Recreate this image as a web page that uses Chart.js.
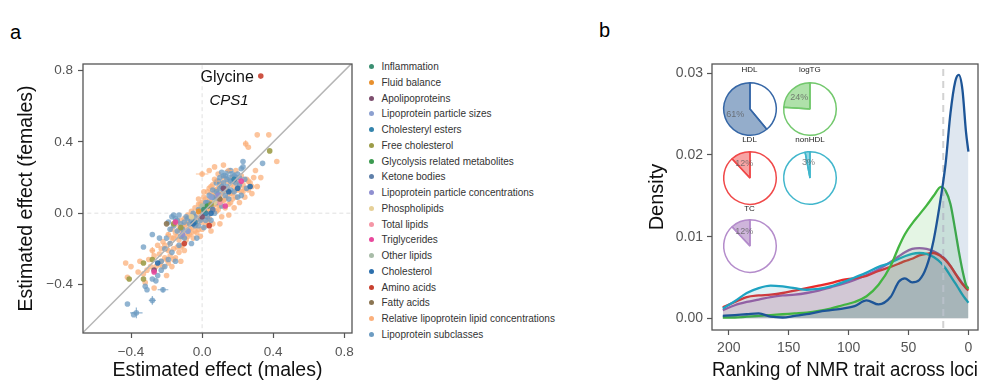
<!DOCTYPE html>
<html>
<head>
<meta charset="utf-8">
<script src="https://cdn.jsdelivr.net/npm/chart.js@4.4.1/dist/chart.umd.min.js"></script>
<style>
  html, body { margin: 0; padding: 0; background: #fff; }
  #fig { position: relative; width: 989px; height: 381px; overflow: hidden;
         font-family: "Liberation Sans", Arial, Helvetica, sans-serif; }
  #fig canvas { position: absolute; }
  .tag { position: absolute; font-size: 20px; line-height: 20px; color: #000; }
  .lg { position: absolute; left: 369px; height: 12px; font-size: 10px; line-height: 12px;
        color: #333; white-space: nowrap; }
  .lg i { display: inline-block; width: 5px; height: 5px; border-radius: 50%;
          margin-right: 7.5px; vertical-align: 1px; }
  .pie-title { position: absolute; font-size: 8px; line-height: 8px; color: #222;
               transform: translate(-50%, -50%); white-space: nowrap; }
</style>
</head>
<body>
<div id="fig">
  <div class="tag" style="left:10px;top:22px">a</div>
  <div class="tag" style="left:599px;top:20px">b</div>
  <canvas id="scatter" width="360" height="381" style="left:0;top:0"></canvas>
  <div id="legend"></div>
  <canvas id="density" width="349" height="381" style="left:640px;top:0"></canvas>
  <div id="pies"></div>
</div>
<script>
// ---------- panel a: sex-specific effect estimates ----------
const categories = [
  'Inflammation', 'Fluid balance', 'Apolipoproteins', 'Lipoprotein particle sizes',
  'Cholesteryl esters', 'Free cholesterol', 'Glycolysis related metabolites', 'Ketone bodies',
  'Lipoprotein particle concentrations', 'Phospholipids', 'Total lipids', 'Triglycerides',
  'Other lipids', 'Cholesterol', 'Amino acids', 'Fatty acids',
  'Relative lipoprotein lipid concentrations', 'Lipoprotein subclasses'
];
const categoryColors = [
  '#3b8f72', '#e8902e', '#7d4e6e', '#8ca0d0', '#3484ac', '#9c9c48', '#3c9a50', '#5f80aa',
  '#8f8fd0', '#e6d098', '#f596a6', '#e8489c', '#a8bca8', '#2c6fac', '#c8402f', '#8b7552',
  '#fbb07c', '#6d9cc2'
];

// [males, females] or [males, females, males SE, females SE]
const inflammation = [[0.01, 0.02]];
const fluidBalance = [[-0.02, 0.01]];
const apolipoproteins = [[-0.27, -0.32], [0.00, -0.02], [0.12, 0.14]];
const particleSizes = [[0.05, 0.09], [-0.08, -0.10]];
const cholesterylEsters = [[0.02, 0.00], [-0.04, -0.05], [0.18, 0.19]];
const freeCholesterol = [[-0.41, -0.37], [-0.33, -0.28], [-0.33, -0.37], [-0.28, -0.26],
  [0.38, 0.35], [-0.12, -0.08], [-0.16, -0.06], [0.05, 0.05]];
const glycolysis = [[0.03, 0.04]];
const ketoneBodies = [[0.06, 0.02]];
const particleConcentrations = [[0.09, 0.10], [-0.11, -0.12]];
const phospholipids = [[0.07, 0.06], [-0.06, -0.02]];
const totalLipids = [[0.10, 0.06]];
const triglycerides = [[-0.15, -0.05], [0.13, 0.04], [-0.27, -0.33], [0.22, 0.18]];
const otherLipids = [[0.00, 0.04]];
const cholesterol = [[-0.25, -0.28], [0.05, 0.00], [0.15, 0.12], [-0.05, -0.06], [0.20, 0.14], [0.27, 0.15]];
const glycine = { name: 'Glycine', gene: 'CPS1', x: 0.33, y: 0.77 };
const aminoAcids = [[glycine.x, glycine.y], [0.04, -0.07], [-0.10, -0.17]];
const fattyAcids = [[-0.20, -0.06], [0.10, 0.08]];
const relativeConcentrations = [
  [-0.43, -0.28], [-0.42, -0.36], [-0.40, -0.30], [-0.36, -0.33], [-0.33, -0.34], [-0.31, -0.32],
  [-0.30, -0.26], [-0.28, -0.21, 0.015, 0.02], [-0.27, -0.42], [-0.26, -0.30], [-0.25, -0.18],
  [-0.24, -0.23], [-0.23, -0.27], [-0.22, -0.16], [-0.22, -0.30], [-0.21, -0.25], [-0.20, -0.20],
  [-0.19, -0.12, 0.015, 0.015], [-0.19, -0.28], [-0.18, -0.24], [-0.18, -0.17], [-0.17, -0.30], [-0.17, -0.09],
  [-0.16, -0.20], [-0.16, -0.14], [-0.15, -0.25], [-0.15, -0.11], [-0.14, -0.19], [-0.14, -0.06],
  [-0.13, -0.15], [-0.13, -0.22], [-0.12, -0.10], [-0.12, -0.04], [-0.11, -0.18], [-0.11, -0.13],
  [-0.10, -0.03], [-0.10, -0.08], [-0.09, -0.15], [-0.09, -0.11], [-0.08, -0.01], [-0.08, -0.06],
  [-0.07, -0.12], [-0.07, -0.03], [-0.06, -0.08], [-0.06, 0.01], [-0.05, -0.14], [-0.05, -0.04],
  [-0.04, -0.10], [-0.04, 0.03], [-0.03, -0.06], [-0.03, -0.01], [-0.02, 0.05], [-0.02, -0.09],
  [-0.01, -0.03], [-0.01, 0.02], [0.00, 0.06], [0.00, -0.05], [0.00, 0.22, 0.035, 0.015],
  [0.01, 0.00], [0.01, 0.09], [0.02, -0.07], [0.02, 0.04], [0.03, 0.12], [0.03, 0.01],
  [0.04, -0.03], [0.04, 0.07], [0.05, 0.15], [0.05, 0.02], [0.06, -0.06], [0.06, 0.10],
  [0.07, 0.05], [0.07, 0.19], [0.08, 0.01], [0.08, 0.13], [0.09, 0.08], [0.09, 0.22],
  [0.10, 0.04], [0.10, 0.16], [0.11, -0.02], [0.11, 0.11], [0.12, 0.07], [0.12, 0.20],
  [0.13, 0.14], [0.13, 0.03], [0.14, 0.18], [0.14, 0.09], [0.15, 0.12], [0.15, 0.24, 0.02, 0.01],
  [0.16, 0.06], [0.16, 0.16], [0.17, 0.20], [0.17, 0.11], [0.18, 0.03], [0.18, 0.15],
  [0.19, 0.24], [0.19, 0.09], [0.20, 0.18], [0.20, 0.13], [0.21, 0.06], [0.22, 0.21],
  [0.22, 0.12], [0.23, 0.16], [0.24, 0.09], [0.25, 0.19], [0.26, 0.13], [0.27, 0.17],
  [0.28, 0.11], [0.29, 0.20], [0.31, 0.15], [0.245, 0.39, 0.015, 0.02], [0.26, 0.37],
  [0.31, 0.44], [0.375, 0.44], [0.42, 0.29], [0.30, 0.24], [0.07, 0.26], [0.12, 0.27],
  [0.04, 0.24], [0.10, -0.06], [0.15, -0.01], [0.05, -0.10], [-0.01, -0.13], [-0.12, -0.27],
  [-0.20, -0.35], [-0.32, -0.39], [0.28, 0.15], [0.33, 0.20],
  [-0.35, -0.27], [-0.29, -0.30], [-0.27, -0.24], [-0.24, -0.29], [-0.23, -0.20], [-0.21, -0.18],
  [-0.20, -0.26], [-0.19, -0.21], [-0.17, -0.14], [-0.16, -0.26], [-0.14, -0.13], [-0.13, -0.09],
  [-0.12, -0.19], [-0.11, -0.07], [-0.10, -0.21], [-0.09, -0.06], [-0.08, -0.13], [-0.07, -0.09],
  [-0.06, -0.11], [-0.05, -0.01], [-0.04, -0.07], [-0.03, -0.11], [-0.02, -0.03], [-0.01, 0.05],
  [0.00, 0.01], [0.01, 0.04], [0.02, 0.08], [0.02, -0.02], [0.03, 0.05], [0.04, 0.02],
  [0.05, 0.11], [0.05, 0.06], [0.06, 0.03], [0.06, 0.16], [0.07, 0.09], [0.08, 0.05],
  [0.08, 0.18, 0.02, 0.015], [0.08, 0.10], [0.09, 0.14], [0.09, 0.02], [0.10, 0.10], [0.11, 0.07],
  [0.11, 0.17], [0.12, 0.12], [0.13, 0.08], [0.14, 0.13], [0.15, 0.05], [0.16, 0.11],
  [0.17, 0.08], [0.18, 0.18], [0.19, 0.13], [0.21, 0.15], [0.23, 0.12], [0.24, 0.14],
  [0.26, 0.18], [0.07, 0.13], [0.04, 0.14], [0.01, 0.12], [-0.02, 0.08], [0.00, -0.09], [0.03, -0.05]
];
const subclasses = [
  [-0.37, -0.56, 0.035, 0.03], [-0.385, -0.57], [-0.42, -0.51], [-0.28, -0.49, 0.02, 0.025],
  [-0.22, -0.43, 0.03, 0.015], [-0.32, -0.41], [-0.31, -0.43], [-0.28, -0.37], [-0.25, -0.35],
  [-0.23, -0.32], [-0.21, -0.30], [-0.33, -0.19], [-0.28, -0.12], [-0.24, -0.14], [-0.20, -0.14],
  [-0.19, -0.05], [-0.17, -0.02], [-0.16, -0.07], [-0.15, -0.03], [-0.14, -0.10], [-0.13, -0.01],
  [-0.12, -0.06], [-0.11, -0.09], [-0.19, -0.26], [-0.17, -0.22], [-0.15, -0.27], [-0.13, -0.18],
  [-0.10, -0.14], [-0.09, -0.02], [-0.07, -0.06], [-0.06, -0.17], [-0.05, 0.00], [-0.04, -0.07],
  [-0.03, -0.14], [-0.02, 0.02], [-0.01, -0.04], [0.00, 0.00], [0.01, -0.08], [0.02, 0.06],
  [0.03, -0.02], [0.04, 0.10], [0.05, 0.04], [0.06, 0.13], [0.07, 0.08], [0.08, 0.17],
  [0.09, 0.11], [0.10, 0.20], [0.10, 0.14], [0.11, 0.23], [0.12, 0.17], [0.13, 0.21],
  [0.13, 0.10], [0.14, 0.15], [0.15, 0.20], [0.15, 0.08], [0.16, 0.24], [0.17, 0.18],
  [0.18, 0.21], [0.18, 0.12], [0.19, 0.17], [0.20, 0.22], [0.21, 0.16], [0.23, 0.26],
  [0.23, 0.29], [0.34, 0.28], [0.24, 0.19], [0.25, 0.14], [0.22, 0.10], [0.11, 0.04],
  [0.07, 0.00], [0.03, 0.06], [-0.08, -0.10], [0.05, -0.04], [0.16, 0.13], [0.20, 0.09],
  [-0.18, -0.09], [-0.16, -0.01], [-0.14, -0.04], [-0.12, -0.13], [-0.10, -0.05], [-0.08, -0.03],
  [-0.06, -0.04], [-0.04, -0.02], [-0.02, -0.07], [0.01, 0.03], [0.02, -0.04], [0.04, 0.05],
  [0.06, 0.09], [0.08, 0.12], [0.09, 0.18], [0.11, 0.15], [0.12, 0.21], [0.14, 0.19],
  [0.14, 0.23], [0.16, 0.18], [0.17, 0.22], [0.19, 0.20], [0.21, 0.20], [0.22, 0.25],
  [0.12, 0.13], [0.08, 0.06], [-0.23, -0.27], [-0.26, -0.38], [-0.21, -0.20], [-0.18, -0.17]
];
const categoryPoints = [
  inflammation, fluidBalance, apolipoproteins, particleSizes, cholesterylEsters, freeCholesterol,
  glycolysis, ketoneBodies, particleConcentrations, phospholipids, totalLipids, triglycerides,
  otherLipids, cholesterol, aminoAcids, fattyAcids, relativeConcentrations, subclasses
];
const effectTicks = [-0.4, 0.0, 0.4, 0.8];

// ---------- panel b: ranking densities ----------
const ranks = [205, 195, 185, 175, 165, 155, 145, 135, 125, 115, 105, 95, 85, 75, 65, 58, 53, 47, 41, 35, 29, 23, 19, 15, 11, 8, 5, 2, 0];
const hdlDensity = [0.0003, 0.0004, 0.0005, 0.0006, 0.0002, 0.0001, 0.0003, 0.0005, 0.0008, 0.0010, 0.0012, 0.0015, 0.0022, 0.0017, 0.0026, 0.0045, 0.0049, 0.0044, 0.0047, 0.0063, 0.0096, 0.0148, 0.0190, 0.0251, 0.0290, 0.0298, 0.0280, 0.0228, 0.0204];
const logtgDensity = [0.0001, 0.0001, 0.0002, 0.0003, 0.0004, 0.0005, 0.0006, 0.0007, 0.0009, 0.0012, 0.0016, 0.0020, 0.0027, 0.0041, 0.0064, 0.0088, 0.0103, 0.0116, 0.0127, 0.0138, 0.0150, 0.0161, 0.0156, 0.0140, 0.0108, 0.0082, 0.0059, 0.0041, 0.0036];
const ldlDensity = [0.00135, 0.0020, 0.0026, 0.0028, 0.0029, 0.0031, 0.0034, 0.0037, 0.0040, 0.0043, 0.0047, 0.0049, 0.0052, 0.0058, 0.0063, 0.0067, 0.0070, 0.0073, 0.0077, 0.0079, 0.0080, 0.0076, 0.0071, 0.0064, 0.0055, 0.0048, 0.0042, 0.0037, 0.0034];
const nonhdlDensity = [0.0012, 0.0021, 0.0031, 0.0037, 0.0040, 0.0039, 0.0037, 0.0035, 0.0036, 0.0039, 0.0044, 0.0050, 0.0056, 0.0063, 0.0068, 0.0073, 0.0076, 0.0079, 0.0080, 0.0079, 0.0075, 0.0068, 0.0061, 0.0052, 0.0043, 0.0036, 0.0029, 0.0023, 0.0019];
const tcDensity = [0.0010, 0.0016, 0.0020, 0.0023, 0.0026, 0.0028, 0.0029, 0.0031, 0.0034, 0.0038, 0.0042, 0.0047, 0.0053, 0.0060, 0.0069, 0.0076, 0.0081, 0.0085, 0.0086, 0.0085, 0.0082, 0.0077, 0.0072, 0.0064, 0.0055, 0.0049, 0.0043, 0.0039, 0.0037];
const rankCutoff = 21;
const rankTicks = [200, 150, 100, 50, 0];
const densityTicks = [0.00, 0.01, 0.02, 0.03];

const lipidTraits = ['HDL', 'logTG', 'LDL', 'nonHDL', 'TC'];
const topRankShare = [61, 24, 12, 3, 12];
const traitLine = ['#1d5597', '#43b541', '#ea2a2a', '#1ea3c2', '#9a5cb4'];
const pieEdge = ['#3566a6', '#72c86c', '#f04848', '#40b6cc', '#b48ccb'];
const pieFill = ['rgba(60,105,160,0.55)', 'rgba(110,200,100,0.55)', 'rgba(240,90,90,0.55)', 'rgba(60,180,205,0.55)', 'rgba(165,120,190,0.55)'];

const FONT = '"Liberation Sans", Arial, Helvetica, sans-serif';
Chart.defaults.font.family = FONT;

// box around the plotting region
const framePlugin = {
  id: 'frame',
  afterDraw(chart) {
    const { ctx, chartArea: a } = chart;
    ctx.save();
    ctx.strokeStyle = '#555';
    ctx.lineWidth = 1.3;
    ctx.strokeRect(a.left, a.top, a.right - a.left, a.bottom - a.top);
    ctx.restore();
  }
};

// horizontal / vertical standard-error whiskers
const errorBarPlugin = {
  id: 'errorBars',
  afterDatasetsDraw(chart) {
    const { ctx, scales: { x, y } } = chart;
    ctx.save();
    ctx.lineWidth = 1.2;
    chart.data.datasets.forEach(ds => {
      if (!ds.whiskers) return;
      ds.data.forEach(p => {
        if (p.ex === undefined) return;
        ctx.strokeStyle = ds.backgroundColor;
        ctx.beginPath();
        ctx.moveTo(x.getPixelForValue(p.x - p.ex), y.getPixelForValue(p.y));
        ctx.lineTo(x.getPixelForValue(p.x + p.ex), y.getPixelForValue(p.y));
        ctx.moveTo(x.getPixelForValue(p.x), y.getPixelForValue(p.y - p.ey));
        ctx.lineTo(x.getPixelForValue(p.x), y.getPixelForValue(p.y + p.ey));
        ctx.stroke();
      });
    });
    ctx.restore();
  }
};

// name of the highlighted metabolite and its gene
const glycinePlugin = {
  id: 'glycineLabel',
  afterDatasetsDraw(chart) {
    const { ctx, scales: { x, y } } = chart;
    const px = x.getPixelForValue(glycine.x), py = y.getPixelForValue(glycine.y);
    ctx.save();
    ctx.fillStyle = '#111';
    ctx.textBaseline = 'middle';
    ctx.font = '16px ' + FONT;
    const w = ctx.measureText(glycine.name).width;
    ctx.textAlign = 'right';
    ctx.fillText(glycine.name, px - 7, py + 1);
    ctx.font = 'italic 15px ' + FONT;
    ctx.textAlign = 'center';
    ctx.fillText(glycine.gene, px - 7 - w / 2 + 2, py + 25);
    ctx.restore();
  }
};

const fmtEffect = v => (v < 0 ? '\u2212' : '') + Math.abs(v).toFixed(1);

const scatterSets = categories.map((name, i) => ({
  label: name,
  data: categoryPoints[i].map(p => ({ x: p[0], y: p[1], ex: p[2], ey: p[3] })),
  backgroundColor: categoryColors[i] + (i >= 16 ? 'c0' : 'e6'),
  borderWidth: 0,
  pointRadius: 2.8,
  whiskers: true
}));
// smaller groups on top, then subclasses, then relative concentrations underneath
const drawOrder = [14, 11, 5, 15, 2, 13, 0, 1, 3, 4, 6, 7, 8, 9, 10, 12, 17, 16];

const refLine = (pts, color, dash, width) => ({
  data: pts, showLine: true, pointRadius: 0, borderColor: color,
  borderDash: dash, borderWidth: width, fill: false
});

const axisCommon = {
  type: 'linear',
  grid: { display: true, drawOnChartArea: false, drawTicks: true, tickLength: 5, tickColor: '#555', tickWidth: 1.2 },
  border: { display: false }
};

new Chart(document.getElementById('scatter'), {
  type: 'scatter',
  data: {
    datasets: [
      refLine([{ x: -1, y: -1 }, { x: 1, y: 1 }], '#b5b5b5', [], 1.5),
      ...drawOrder.map(i => scatterSets[i]),
      refLine([{ x: 0, y: -1 }, { x: 0, y: 1 }], '#e0e0e0', [4, 3], 1),
      refLine([{ x: -1, y: 0 }, { x: 1, y: 0 }], '#e0e0e0', [4, 3], 1)
    ]
  },
  options: {
    responsive: false, animation: false, events: [],
    layout: { padding: { left: 0, top: 64, right: 8, bottom: 0 } },
    plugins: { legend: { display: false }, tooltip: { enabled: false } },
    scales: {
      x: {
        ...axisCommon, min: -0.67, max: 0.843,
        afterBuildTicks: s => { s.ticks = effectTicks.map(v => ({ value: v })); },
        afterFit: s => { s.height = 48; },
        ticks: { font: { size: 13.5 }, color: '#555', padding: 6, callback: fmtEffect, maxRotation: 0 },
        title: { display: true, text: 'Estimated effect (males)', color: '#111',
                 font: { size: 19.5, lineHeight: 1 }, padding: { top: 0, bottom: 1 } }
      },
      y: {
        ...axisCommon, min: -0.673, max: 0.838,
        afterBuildTicks: s => { s.ticks = effectTicks.map(v => ({ value: v })); },
        afterFit: s => { s.width = 83; },
        ticks: { font: { size: 13.5 }, color: '#555', padding: 5, callback: fmtEffect },
        title: { display: true, text: 'Estimated effect (females)', color: '#111',
                 font: { size: 19.5, lineHeight: 1 }, padding: { top: 17, bottom: 0 } }
      }
    }
  },
  plugins: [framePlugin, errorBarPlugin, glycinePlugin]
});

// category key
const legendBox = document.getElementById('legend');
categories.forEach((name, i) => {
  const row = document.createElement('div');
  row.className = 'lg';
  row.style.top = (61 + i * 15.75) + 'px';
  row.innerHTML = '<i style="background:' + categoryColors[i] + '"></i>' + name;
  legendBox.appendChild(row);
});

// ---------- panel b chart ----------
const densitySeries = [hdlDensity, logtgDensity, ldlDensity, nonhdlDensity, tcDensity];
const hexToRgba = (hex, a) => {
  const n = parseInt(hex.slice(1), 16);
  return 'rgba(' + (n >> 16) + ',' + ((n >> 8) & 255) + ',' + (n & 255) + ',' + a + ')';
};
const curveSets = lipidTraits.map((t, i) => ({
  label: t,
  data: ranks.map((r, k) => ({ x: r, y: densitySeries[i][k] })),
  showLine: true, pointRadius: 0, borderWidth: 2.3,
  borderColor: traitLine[i], backgroundColor: hexToRgba(traitLine[i], 0.14),
  fill: 'origin', cubicInterpolationMode: 'monotone'
}));
// draw order: HDL on top, then the cutoff, then logTG, nonHDL, LDL, TC
const densityDatasets = [
  curveSets[0],
  refLine([{ x: rankCutoff, y: -0.01 }, { x: rankCutoff, y: 0.04 }], '#d2d2d2', [7, 5], 2),
  curveSets[1], curveSets[3], curveSets[2], curveSets[4]
];

new Chart(document.getElementById('density'), {
  type: 'scatter',
  data: { datasets: densityDatasets },
  options: {
    responsive: false, animation: false, events: [],
    layout: { padding: { left: 0, top: 64, right: 11, bottom: 0 } },
    plugins: { legend: { display: false }, tooltip: { enabled: false } },
    scales: {
      x: {
        ...axisCommon, reverse: true, min: -8, max: 214,
        afterBuildTicks: s => { s.ticks = rankTicks.map(v => ({ value: v })); },
        afterFit: s => { s.height = 51; },
        ticks: { font: { size: 14 }, color: '#555', padding: 5, callback: v => String(v), maxRotation: 0 },
        title: { display: true, text: 'Ranking of NMR trait across loci', color: '#111',
                 font: { size: 19.5, lineHeight: 1 }, padding: { top: 0, bottom: 1 } }
      },
      y: {
        ...axisCommon, min: -0.00143, max: 0.03114,
        afterBuildTicks: s => { s.ticks = densityTicks.map(v => ({ value: v })); },
        afterFit: s => { s.width = 72; },
        ticks: { font: { size: 14 }, color: '#555', padding: 4, callback: v => v.toFixed(2) },
        title: { display: true, text: 'Density', color: '#111',
                 font: { size: 20, lineHeight: 1 }, padding: { top: 7, bottom: 0 } }
      }
    }
  },
  plugins: [framePlugin]
});

// ---------- inset pies: share of loci where each trait ranks highest ----------
const pieCentres = [[749.5, 108.5], [809.8, 108.5], [749.5, 178], [810, 178], [749.5, 245.8]];
const pieTitleY = [70, 70, 140, 140, 209];
const piesBox = document.getElementById('pies');
const pctPlugin = {
  id: 'pct',
  afterDatasetsDraw(chart) {
    const arc = chart.getDatasetMeta(0).data[1];
    const mid = (arc.startAngle + arc.endAngle) / 2;
    const r = arc.outerRadius * 0.6;
    const { ctx } = chart;
    ctx.save();
    ctx.font = '9px ' + FONT;
    ctx.fillStyle = 'rgba(90,90,90,0.75)';
    ctx.textAlign = 'center';
    ctx.textBaseline = 'middle';
    ctx.fillText(chart.data.datasets[0].data[1] + '%', arc.x + Math.cos(mid) * r, arc.y + Math.sin(mid) * r);
    ctx.restore();
  }
};
lipidTraits.forEach((t, i) => {
  const c = document.createElement('canvas');
  c.width = 62; c.height = 62;
  c.style.left = (pieCentres[i][0] - 31) + 'px';
  c.style.top = (pieCentres[i][1] - 31) + 'px';
  piesBox.appendChild(c);
  new Chart(c, {
    type: 'pie',
    data: {
      labels: ['other', t],
      datasets: [{
        data: [100 - topRankShare[i], topRankShare[i]],
        backgroundColor: ['#ffffff', pieFill[i]],
        borderColor: pieEdge[i], borderWidth: 1.5
      }]
    },
    options: {
      responsive: false, animation: false, events: [], radius: 26.3,
      plugins: { legend: { display: false }, tooltip: { enabled: false } }
    },
    plugins: [pctPlugin]
  });
  const title = document.createElement('div');
  title.className = 'pie-title';
  title.style.left = pieCentres[i][0] + 'px';
  title.style.top = pieTitleY[i] + 'px';
  title.textContent = t;
  piesBox.appendChild(title);
});
</script>
</body>
</html>
